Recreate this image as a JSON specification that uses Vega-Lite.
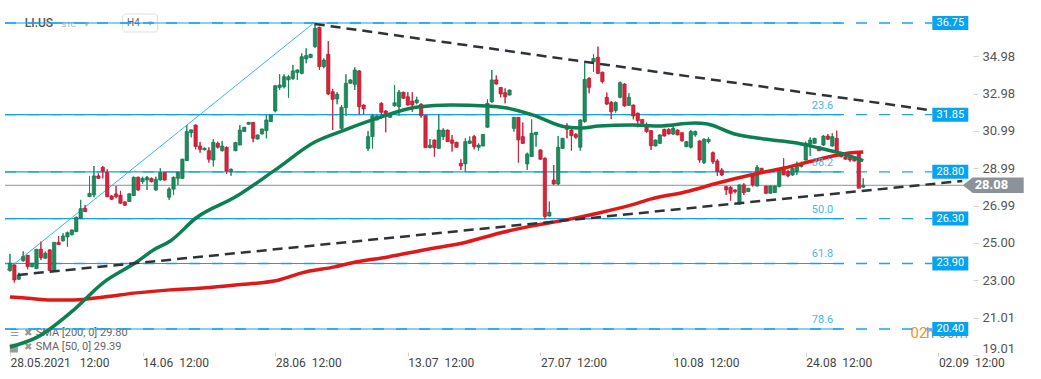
{
  "$schema": "https://vega.github.io/schema/vega-lite/v6.json",
  "width": 973,
  "height": 355,
  "padding": 0,
  "background": "white",
  "config": {"view": {"stroke": null}, "font": "Roboto"},
  "datasets": {
    "candles": [
      {"i":0,"o":23.52,"h":24.41,"l":23.47,"c":23.91},
      {"i":1,"o":23.82,"h":23.85,"l":22.88,"c":23.02},
      {"i":2,"o":23.06,"h":23.41,"l":23.02,"c":23.29},
      {"i":3,"o":24.05,"h":24.55,"l":24.00,"c":24.27},
      {"i":4,"o":24.34,"h":24.36,"l":23.59,"c":23.73},
      {"i":5,"o":23.73,"h":23.93,"l":23.70,"c":23.91},
      {"i":6,"o":23.63,"h":24.68,"l":23.60,"c":24.66},
      {"i":7,"o":24.66,"h":25.07,"l":24.09,"c":24.22},
      {"i":8,"o":24.18,"h":24.54,"l":24.14,"c":24.45},
      {"i":9,"o":24.63,"h":24.66,"l":23.50,"c":23.52},
      {"i":10,"o":23.49,"h":25.05,"l":23.47,"c":25.03},
      {"i":11,"o":25.03,"h":25.37,"l":24.89,"c":24.91},
      {"i":12,"o":25.11,"h":25.52,"l":25.07,"c":25.37},
      {"i":13,"o":25.32,"h":25.60,"l":24.80,"c":25.55},
      {"i":14,"o":25.44,"h":25.72,"l":25.40,"c":25.69},
      {"i":15,"o":25.60,"h":26.40,"l":25.58,"c":26.37},
      {"i":16,"o":26.32,"h":27.30,"l":26.30,"c":26.83},
      {"i":17,"o":26.85,"h":27.03,"l":26.65,"c":26.67},
      {"i":18,"o":27.47,"h":28.58,"l":27.45,"c":27.65},
      {"i":19,"o":27.56,"h":29.11,"l":27.44,"c":28.58},
      {"i":20,"o":28.58,"h":28.72,"l":28.43,"c":28.45},
      {"i":21,"o":29.04,"h":29.11,"l":28.45,"c":28.84},
      {"i":22,"o":28.76,"h":28.93,"l":27.44,"c":27.47},
      {"i":23,"o":27.51,"h":27.55,"l":27.30,"c":27.33},
      {"i":24,"o":27.62,"h":28.04,"l":27.39,"c":27.47},
      {"i":25,"o":27.55,"h":27.78,"l":27.08,"c":27.12},
      {"i":26,"o":27.19,"h":27.22,"l":26.99,"c":27.01},
      {"i":27,"o":27.21,"h":27.65,"l":27.19,"c":27.62},
      {"i":28,"o":27.53,"h":28.54,"l":27.50,"c":28.51},
      {"i":29,"o":28.51,"h":28.54,"l":27.78,"c":27.83},
      {"i":30,"o":28.27,"h":28.54,"l":28.15,"c":28.45},
      {"i":31,"o":28.36,"h":28.58,"l":27.83,"c":28.49},
      {"i":32,"o":28.45,"h":28.49,"l":28.24,"c":28.27},
      {"i":33,"o":27.83,"h":28.54,"l":27.79,"c":28.40},
      {"i":34,"o":28.36,"h":28.99,"l":28.33,"c":28.76},
      {"i":35,"o":28.76,"h":28.80,"l":28.33,"c":28.36},
      {"i":36,"o":27.44,"h":27.97,"l":27.30,"c":27.88},
      {"i":37,"o":27.87,"h":28.54,"l":27.56,"c":28.51},
      {"i":38,"o":28.45,"h":28.81,"l":28.10,"c":28.76},
      {"i":39,"o":28.45,"h":29.50,"l":28.43,"c":29.47},
      {"i":40,"o":29.40,"h":31.30,"l":29.38,"c":30.95},
      {"i":41,"o":30.89,"h":31.06,"l":30.64,"c":31.04},
      {"i":42,"o":31.30,"h":31.32,"l":30.00,"c":30.15},
      {"i":43,"o":30.18,"h":30.39,"l":29.82,"c":30.00},
      {"i":44,"o":29.97,"h":30.10,"l":29.95,"c":30.06},
      {"i":45,"o":29.93,"h":30.11,"l":29.29,"c":29.47},
      {"i":46,"o":29.43,"h":30.54,"l":29.08,"c":30.38},
      {"i":47,"o":30.32,"h":30.41,"l":30.05,"c":30.11},
      {"i":48,"o":29.93,"h":30.45,"l":29.88,"c":30.18},
      {"i":49,"o":30.11,"h":30.15,"l":28.69,"c":28.84},
      {"i":50,"o":28.81,"h":28.98,"l":28.59,"c":28.93},
      {"i":51,"o":29.93,"h":30.40,"l":29.90,"c":30.36},
      {"i":52,"o":30.23,"h":31.30,"l":30.22,"c":31.03},
      {"i":53,"o":30.95,"h":31.20,"l":30.93,"c":31.18},
      {"i":54,"o":31.34,"h":31.46,"l":31.32,"c":31.44},
      {"i":55,"o":31.44,"h":31.46,"l":30.38,"c":30.59},
      {"i":56,"o":30.55,"h":30.79,"l":30.53,"c":30.77},
      {"i":57,"o":30.82,"h":31.10,"l":30.80,"c":31.09},
      {"i":58,"o":31.00,"h":31.84,"l":30.59,"c":31.57},
      {"i":59,"o":31.48,"h":31.86,"l":31.46,"c":31.84},
      {"i":60,"o":32.05,"h":33.42,"l":31.98,"c":33.40},
      {"i":61,"o":33.30,"h":34.01,"l":33.17,"c":33.44},
      {"i":62,"o":33.35,"h":34.01,"l":33.26,"c":33.88},
      {"i":63,"o":33.71,"h":33.97,"l":32.76,"c":33.88},
      {"i":64,"o":33.79,"h":34.51,"l":33.71,"c":34.19},
      {"i":65,"o":34.11,"h":34.27,"l":33.71,"c":34.24},
      {"i":66,"o":34.06,"h":35.13,"l":34.01,"c":34.95},
      {"i":67,"o":34.83,"h":35.40,"l":34.60,"c":35.01},
      {"i":68,"o":34.90,"h":35.10,"l":34.88,"c":35.08},
      {"i":69,"o":35.49,"h":36.73,"l":35.43,"c":36.46},
      {"i":70,"o":36.52,"h":36.55,"l":34.24,"c":34.42},
      {"i":71,"o":34.42,"h":34.86,"l":34.33,"c":34.77},
      {"i":72,"o":35.08,"h":35.79,"l":32.90,"c":32.96},
      {"i":73,"o":33.08,"h":33.23,"l":31.03,"c":32.67},
      {"i":74,"o":32.69,"h":33.05,"l":32.41,"c":32.94},
      {"i":75,"o":31.12,"h":32.37,"l":31.03,"c":32.25},
      {"i":76,"o":32.23,"h":34.01,"l":31.80,"c":33.53},
      {"i":77,"o":33.53,"h":33.75,"l":33.50,"c":33.71},
      {"i":78,"o":33.47,"h":34.38,"l":33.17,"c":34.24},
      {"i":79,"o":34.19,"h":34.24,"l":31.84,"c":32.28},
      {"i":80,"o":32.37,"h":32.40,"l":31.84,"c":32.16},
      {"i":81,"o":30.05,"h":30.98,"l":29.91,"c":30.68},
      {"i":82,"o":30.68,"h":31.87,"l":30.05,"c":31.80},
      {"i":83,"o":31.57,"h":31.82,"l":31.55,"c":31.78},
      {"i":84,"o":32.46,"h":32.51,"l":31.62,"c":31.98},
      {"i":85,"o":32.05,"h":32.10,"l":30.91,"c":31.75},
      {"i":86,"o":31.71,"h":31.94,"l":31.69,"c":31.92},
      {"i":87,"o":32.33,"h":33.44,"l":32.28,"c":32.49},
      {"i":88,"o":32.28,"h":33.17,"l":31.80,"c":33.05},
      {"i":89,"o":33.05,"h":33.08,"l":32.70,"c":32.73},
      {"i":90,"o":32.81,"h":33.05,"l":32.33,"c":32.37},
      {"i":91,"o":32.58,"h":33.05,"l":32.01,"c":32.37},
      {"i":92,"o":32.49,"h":32.81,"l":32.41,"c":32.64},
      {"i":93,"o":32.41,"h":32.46,"l":31.69,"c":31.80},
      {"i":94,"o":31.80,"h":31.84,"l":30.08,"c":30.09},
      {"i":95,"o":30.09,"h":30.55,"l":30.05,"c":30.23},
      {"i":96,"o":30.50,"h":30.52,"l":29.61,"c":30.09},
      {"i":97,"o":30.05,"h":31.89,"l":30.03,"c":31.03},
      {"i":98,"o":30.68,"h":31.12,"l":30.50,"c":31.03},
      {"i":99,"o":31.03,"h":31.05,"l":30.41,"c":30.41},
      {"i":100,"o":30.50,"h":30.77,"l":29.88,"c":30.32},
      {"i":101,"o":30.38,"h":30.40,"l":30.10,"c":30.11},
      {"i":102,"o":29.25,"h":29.47,"l":28.90,"c":29.11},
      {"i":103,"o":29.22,"h":30.59,"l":28.81,"c":30.41},
      {"i":104,"o":30.32,"h":30.68,"l":30.29,"c":30.45},
      {"i":105,"o":30.68,"h":30.77,"l":30.00,"c":30.14},
      {"i":106,"o":30.11,"h":30.32,"l":29.93,"c":30.23},
      {"i":107,"o":30.18,"h":30.82,"l":30.16,"c":30.80},
      {"i":108,"o":31.18,"h":32.67,"l":31.16,"c":32.46},
      {"i":109,"o":32.55,"h":34.24,"l":32.49,"c":33.71},
      {"i":110,"o":33.71,"h":33.95,"l":33.46,"c":33.49},
      {"i":111,"o":33.31,"h":33.33,"l":32.78,"c":32.96},
      {"i":112,"o":33.03,"h":33.26,"l":32.46,"c":32.81},
      {"i":113,"o":32.90,"h":33.19,"l":32.88,"c":33.17},
      {"i":114,"o":31.12,"h":31.73,"l":30.95,"c":31.71},
      {"i":115,"o":31.71,"h":31.73,"l":29.29,"c":30.50},
      {"i":116,"o":30.68,"h":31.43,"l":30.29,"c":30.32},
      {"i":117,"o":29.22,"h":29.82,"l":28.90,"c":29.75},
      {"i":118,"o":29.61,"h":31.60,"l":29.59,"c":30.86},
      {"i":119,"o":30.78,"h":30.93,"l":30.14,"c":30.91},
      {"i":120,"o":29.97,"h":29.99,"l":29.43,"c":29.47},
      {"i":121,"o":29.52,"h":29.57,"l":26.26,"c":26.41},
      {"i":122,"o":26.44,"h":27.21,"l":26.41,"c":26.64},
      {"i":123,"o":28.36,"h":29.16,"l":28.10,"c":28.15},
      {"i":124,"o":28.15,"h":30.71,"l":28.08,"c":30.11},
      {"i":125,"o":30.05,"h":30.61,"l":30.03,"c":30.59},
      {"i":126,"o":31.25,"h":31.39,"l":30.59,"c":31.07},
      {"i":127,"o":31.03,"h":31.18,"l":29.93,"c":30.73},
      {"i":128,"o":30.80,"h":30.86,"l":30.57,"c":30.64},
      {"i":129,"o":30.11,"h":31.60,"l":29.93,"c":31.57},
      {"i":130,"o":31.48,"h":34.60,"l":31.43,"c":33.74},
      {"i":131,"o":33.79,"h":33.85,"l":33.00,"c":33.31},
      {"i":132,"o":34.68,"h":35.09,"l":34.15,"c":34.86},
      {"i":133,"o":34.92,"h":35.49,"l":34.02,"c":34.06},
      {"i":134,"o":34.12,"h":34.15,"l":33.53,"c":33.62},
      {"i":135,"o":32.78,"h":33.03,"l":32.37,"c":32.42},
      {"i":136,"o":32.51,"h":32.58,"l":31.62,"c":32.01},
      {"i":137,"o":32.07,"h":32.55,"l":31.96,"c":32.51},
      {"i":138,"o":32.78,"h":33.62,"l":32.73,"c":33.56},
      {"i":139,"o":33.49,"h":33.53,"l":32.28,"c":32.32},
      {"i":140,"o":32.35,"h":33.00,"l":32.33,"c":32.78},
      {"i":141,"o":32.37,"h":32.39,"l":31.60,"c":31.78},
      {"i":142,"o":31.93,"h":31.96,"l":31.18,"c":31.53},
      {"i":143,"o":31.60,"h":31.62,"l":31.37,"c":31.39},
      {"i":144,"o":31.18,"h":31.43,"l":30.89,"c":30.95},
      {"i":145,"o":31.00,"h":31.03,"l":29.97,"c":30.20},
      {"i":146,"o":30.18,"h":30.52,"l":30.16,"c":30.50},
      {"i":147,"o":30.32,"h":30.80,"l":30.30,"c":30.77},
      {"i":148,"o":31.07,"h":31.10,"l":30.69,"c":30.71},
      {"i":149,"o":31.07,"h":31.12,"l":30.80,"c":30.82},
      {"i":150,"o":30.82,"h":31.25,"l":30.77,"c":31.12},
      {"i":151,"o":31.03,"h":31.07,"l":30.75,"c":30.77},
      {"i":152,"o":30.89,"h":30.90,"l":30.41,"c":30.46},
      {"i":153,"o":30.14,"h":30.43,"l":30.12,"c":30.41},
      {"i":154,"o":30.11,"h":31.03,"l":30.05,"c":30.95},
      {"i":155,"o":30.77,"h":31.00,"l":30.68,"c":30.95},
      {"i":156,"o":30.45,"h":30.47,"l":29.29,"c":29.43},
      {"i":157,"o":29.29,"h":30.59,"l":29.22,"c":30.54},
      {"i":158,"o":30.41,"h":30.64,"l":30.32,"c":30.54},
      {"i":159,"o":29.82,"h":29.88,"l":29.22,"c":29.34},
      {"i":160,"o":29.38,"h":29.47,"l":28.58,"c":28.81},
      {"i":161,"o":28.90,"h":28.99,"l":28.58,"c":28.63},
      {"i":162,"o":28.01,"h":28.04,"l":27.56,"c":27.83},
      {"i":163,"o":27.97,"h":28.04,"l":27.26,"c":27.65},
      {"i":164,"o":27.83,"h":27.87,"l":27.65,"c":27.74},
      {"i":165,"o":27.08,"h":28.12,"l":27.03,"c":28.10},
      {"i":166,"o":28.10,"h":28.19,"l":27.56,"c":27.69},
      {"i":167,"o":27.74,"h":27.94,"l":27.72,"c":27.92},
      {"i":168,"o":28.58,"h":28.63,"l":28.01,"c":28.10},
      {"i":169,"o":28.04,"h":29.16,"l":28.01,"c":29.04},
      {"i":170,"o":28.99,"h":29.01,"l":28.79,"c":28.81},
      {"i":171,"o":28.04,"h":28.06,"l":27.63,"c":27.65},
      {"i":172,"o":27.65,"h":28.06,"l":27.63,"c":28.04},
      {"i":173,"o":27.69,"h":28.06,"l":27.67,"c":28.04},
      {"i":174,"o":28.01,"h":28.93,"l":27.97,"c":28.90},
      {"i":175,"o":28.99,"h":29.52,"l":28.63,"c":28.63},
      {"i":176,"o":28.81,"h":28.90,"l":28.51,"c":28.58},
      {"i":177,"o":28.63,"h":29.04,"l":28.58,"c":28.99},
      {"i":178,"o":28.81,"h":29.34,"l":28.63,"c":29.16},
      {"i":179,"o":29.08,"h":29.34,"l":29.04,"c":29.25},
      {"i":180,"o":29.43,"h":30.41,"l":29.41,"c":30.32},
      {"i":181,"o":30.29,"h":30.64,"l":29.65,"c":30.50},
      {"i":182,"o":30.32,"h":30.61,"l":30.30,"c":30.59},
      {"i":183,"o":30.14,"h":30.16,"l":29.91,"c":29.93},
      {"i":184,"o":30.23,"h":30.77,"l":30.18,"c":30.71},
      {"i":185,"o":30.71,"h":30.82,"l":30.50,"c":30.54},
      {"i":186,"o":30.18,"h":30.86,"l":30.14,"c":30.68},
      {"i":187,"o":30.59,"h":31.00,"l":29.82,"c":29.88},
      {"i":188,"o":29.79,"h":29.88,"l":29.57,"c":29.61},
      {"i":189,"o":29.61,"h":29.63,"l":29.45,"c":29.47},
      {"i":190,"o":29.57,"h":29.65,"l":29.34,"c":29.43},
      {"i":191,"o":29.52,"h":29.55,"l":29.36,"c":29.38},
      {"i":192,"o":29.75,"h":29.88,"l":27.92,"c":27.92},
      {"i":193,"o":27.98,"h":28.45,"l":27.95,"c":28.08}
    ],
    "sma50": [
      {"i":0,"p":19.44},{"i":6.27,"p":19.98},{"i":13.88,"p":21.31},{"i":21.27,"p":22.91},
      {"i":28.65,"p":23.98},{"i":32.46,"p":24.62},{"i":36.27,"p":25.10},{"i":42.09,"p":26.33},
      {"i":51.04,"p":27.46},{"i":60.0,"p":28.90},{"i":68.95,"p":30.39},{"i":75.67,"p":31.03},
      {"i":83.28,"p":31.68},{"i":92.23,"p":32.26},{"i":99.62,"p":32.37},{"i":107.9,"p":32.32},
      {"i":112.4,"p":32.21},{"i":118.2,"p":31.84},{"i":125.8,"p":31.19},{"i":129.4,"p":31.14},
      {"i":133.2,"p":31.25},{"i":140.6,"p":31.30},{"i":146.6,"p":31.25},{"i":154.9,"p":31.41},
      {"i":157.8,"p":31.35},{"i":163.9,"p":30.82},{"i":170.6,"p":30.55},{"i":178.0,"p":30.34},
      {"i":183.1,"p":30.07},{"i":187.6,"p":29.81},{"i":193.0,"p":29.40}
    ],
    "sma200": [
      {"i":0,"p":22.11},{"i":3.36,"p":22.06},{"i":8.51,"p":21.95},{"i":14.55,"p":21.95},
      {"i":21.27,"p":22.11},{"i":28.65,"p":22.33},{"i":36.27,"p":22.49},{"i":43.65,"p":22.59},
      {"i":51.04,"p":22.75},{"i":60.89,"p":23.02},{"i":66.04,"p":23.40},{"i":73.43,"p":23.72},
      {"i":77.23,"p":23.93},{"i":85.52,"p":24.25},{"i":93.58,"p":24.62},{"i":103.4,"p":25.05},
      {"i":110.8,"p":25.53},{"i":118.2,"p":25.91},{"i":125.8,"p":26.23},{"i":133.2,"p":26.60},
      {"i":140.6,"p":27.03},{"i":145.1,"p":27.35},{"i":152.7,"p":27.72},{"i":160.1,"p":28.20},
      {"i":167.5,"p":28.63},{"i":175.1,"p":29.00},{"i":182.4,"p":29.43},{"i":189.8,"p":29.81},
      {"i":193.0,"p":29.86}
    ],
    "trend": [
      {"g":"down","i":68.95,"p":36.70},{"g":"down","i":208.6,"p":32.08},
      {"g":"up","i":1.79,"p":23.29},{"g":"up","i":215.4,"p":28.31}
    ],
    "fibline": [
      {"i":-0.67,"p":23.56},{"i":68.7,"p":36.75}
    ],
    "levels": [
      {"p":36.75,"lab":"36.75","fib":""},
      {"p":31.85,"lab":"31.85","fib":"23.6"},
      {"p":28.80,"lab":"28.80","fib":"38.2"},
      {"p":26.30,"lab":"26.30","fib":"50.0"},
      {"p":23.90,"lab":"23.90","fib":"61.8"},
      {"p":20.40,"lab":"20.40","fib":"78.6"}
    ]
  },
  "layer": [
    {
      "data": {"name": "candles"},
      "mark": {"type": "rule", "strokeWidth": 1},
      "encoding": {
        "x": {
          "field": "i", "type": "quantitative",
          "scale": {"domain": [-1.12, 216.7], "nice": false, "zero": false},
          "axis": {
            "title": null, "values": [0, 30, 60, 90, 120, 150, 180, 210],
            "labelExpr": "datum.value == 0 ? '28.05.2021\u00a0\u00a0\u00a012:00' : datum.value == 30 ? '14.06\u00a0\u00a012:00' : datum.value == 60 ? '28.06\u00a0\u00a012:00' : datum.value == 90 ? '13.07\u00a0\u00a012:00' : datum.value == 120 ? '27.07\u00a0\u00a012:00' : datum.value == 150 ? '10.08\u00a0\u00a012:00' : datum.value == 180 ? '24.08\u00a0\u00a012:00' : '02.09\u00a0\u00a012:00'",
            "grid": false, "domain": false, "tickSize": 4, "tickColor": "#d4d4d4",
            "labelAlign": "left", "labelFlush": false, "labelOverlap": false,
            "labelFontSize": 12, "labelColor": "#444", "labelPadding": 1, "offset": -3
          }
        },
        "y": {
          "field": "l", "type": "quantitative",
          "scale": {"domain": [19.01, 37.98], "nice": false, "zero": false},
          "axis": {
            "title": null, "orient": "right",
            "values": [19.01, 21.01, 23.0, 25.0, 26.99, 28.99, 30.99, 32.98, 34.98],
            "format": ".2f", "grid": false, "domain": false, "tickSize": 5, "tickColor": "#d4d4d4",
            "labelFontSize": 13, "labelColor": "#555", "labelPadding": 4, "labelFlush": 6, "labelOverlap": false
          }
        },
        "y2": {"field": "h"},
        "color": {"condition": {"test": "datum.c >= datum.o", "value": "#168a5a"}, "value": "#d3203a"}
      }
    },
    {
      "data": {"values": [{}]},
      "mark": {"type": "rect", "fill": "white", "stroke": "#dedede", "strokeWidth": 1, "cornerRadius": 3},
      "encoding": {
        "x": {"datum": 25.5, "type": "quantitative"},
        "x2": {"datum": 33.4},
        "y": {"datum": 37.23, "type": "quantitative"},
        "y2": {"datum": 36.27}
      }
    },
    {
      "data": {"values": [{"t": "LI.US"}]},
      "mark": {"type": "text", "align": "left", "fontSize": 12, "fontWeight": 500, "color": "#555"},
      "encoding": {
        "x": {"datum": 3.36, "type": "quantitative"},
        "y": {"datum": 36.75, "type": "quantitative"},
        "text": {"field": "t"}
      }
    },
    {
      "data": {"values": [{"t": "STC"}]},
      "mark": {"type": "text", "align": "left", "fontSize": 8, "color": "#aaa"},
      "encoding": {
        "x": {"datum": 11.64, "type": "quantitative"},
        "y": {"datum": 36.67, "type": "quantitative"},
        "text": {"field": "t"}
      }
    },
    {
      "data": {"values": [{"t": "▾"}]},
      "mark": {"type": "text", "align": "left", "fontSize": 10, "color": "#bbb"},
      "encoding": {
        "x": {"datum": 16.8, "type": "quantitative"},
        "y": {"datum": 36.72, "type": "quantitative"},
        "text": {"field": "t"}
      }
    },
    {
      "data": {"values": [{"t": "H4"}]},
      "mark": {"type": "text", "align": "left", "fontSize": 10, "color": "#666"},
      "encoding": {
        "x": {"datum": 26.5, "type": "quantitative"},
        "y": {"datum": 36.75, "type": "quantitative"},
        "text": {"field": "t"}
      }
    },
    {
      "data": {"values": [{"t": "▾"}]},
      "mark": {"type": "text", "align": "left", "fontSize": 9, "color": "#bbb"},
      "encoding": {
        "x": {"datum": 31.2, "type": "quantitative"},
        "y": {"datum": 36.75, "type": "quantitative"},
        "text": {"field": "t"}
      }
    },
    {
      "data": {"values": [{"a": "☰", "b": "✖", "t": "SMA [200,  0]  29.80", "p": 20.19}, {"a": "▆", "b": "✖", "t": "SMA [50,  0]  29.39", "p": 19.44}]},
      "layer": [
        {
          "mark": {"type": "text", "align": "left", "fontSize": 10, "color": "#999"},
          "encoding": {
            "x": {"datum": 0.1, "type": "quantitative"},
            "y": {"field": "p", "type": "quantitative"},
            "text": {"field": "a"}
          }
        },
        {
          "mark": {"type": "text", "align": "left", "fontSize": 10, "color": "#999"},
          "encoding": {
            "x": {"datum": 3.13, "type": "quantitative"},
            "y": {"field": "p", "type": "quantitative"},
            "text": {"field": "b"}
          }
        },
        {
          "mark": {"type": "text", "align": "left", "fontSize": 11, "color": "#666"},
          "encoding": {
            "x": {"datum": 5.82, "type": "quantitative"},
            "y": {"field": "p", "type": "quantitative"},
            "text": {"field": "t"}
          }
        }
      ]
    },
    {
      "data": {"name": "levels"},
      "mark": {"type": "rule", "color": "#1aa5ec", "strokeWidth": 1.3, "strokeDash": [11, 12]},
      "encoding": {
        "x": {"datum": -1.12, "type": "quantitative"},
        "x2": {"datum": 208.6},
        "y": {"field": "p", "type": "quantitative"}
      }
    },
    {
      "data": {"name": "levels"},
      "mark": {"type": "rule", "color": "#14a1e8", "strokeWidth": 1.2},
      "encoding": {
        "x": {"datum": -1.12, "type": "quantitative"},
        "x2": {"datum": 188},
        "y": {"field": "p", "type": "quantitative"}
      }
    },
    {
      "data": {"values": [{}]},
      "mark": {"type": "rule", "color": "#8a9196", "strokeWidth": 1},
      "encoding": {
        "x": {"datum": -1.12, "type": "quantitative"},
        "x2": {"datum": 215.5},
        "y": {"datum": 28.08, "type": "quantitative"}
      }
    },
    {
      "data": {"name": "fibline"},
      "mark": {"type": "line", "color": "#36b4f0", "strokeWidth": 1},
      "encoding": {
        "x": {"field": "i", "type": "quantitative"},
        "y": {"field": "p", "type": "quantitative"}
      }
    },
    {
      "data": {"name": "candles"},
      "mark": {"type": "rule", "strokeWidth": 1},
      "encoding": {
        "x": {"field": "i", "type": "quantitative"},
        "y": {"field": "l", "type": "quantitative"},
        "y2": {"field": "h"},
        "color": {"condition": {"test": "datum.c >= datum.o", "value": "#168a5a"}, "value": "#d3203a"}
      }
    },
    {
      "data": {"name": "candles"},
      "mark": {"type": "bar", "width": 3.4, "strokeWidth": 0.6},
      "encoding": {
        "x": {"field": "i", "type": "quantitative"},
        "y": {"field": "o", "type": "quantitative"},
        "y2": {"field": "c"},
        "color": {"condition": {"test": "datum.c >= datum.o", "value": "#1c8c5e"}, "value": "#d9233b"},
        "stroke": {"condition": {"test": "datum.c >= datum.o", "value": "#0f6b45"}, "value": "#a8182b"}
      }
    },
    {
      "data": {"name": "sma200"},
      "mark": {"type": "line", "color": "#e01818", "strokeWidth": 3.5, "interpolate": "monotone"},
      "encoding": {
        "x": {"field": "i", "type": "quantitative"},
        "y": {"field": "p", "type": "quantitative"}
      }
    },
    {
      "data": {"name": "sma50"},
      "mark": {"type": "line", "color": "#0c8050", "strokeWidth": 3.5, "interpolate": "monotone"},
      "encoding": {
        "x": {"field": "i", "type": "quantitative"},
        "y": {"field": "p", "type": "quantitative"}
      }
    },
    {
      "data": {"name": "trend"},
      "mark": {"type": "line", "color": "#2d3338", "strokeWidth": 2.5, "strokeDash": [10, 6]},
      "encoding": {
        "x": {"field": "i", "type": "quantitative"},
        "y": {"field": "p", "type": "quantitative"},
        "detail": {"field": "g"}
      }
    },
    {
      "data": {"name": "levels"},
      "mark": {"type": "text", "color": "#45b5ee", "fontSize": 11, "dy": -9},
      "encoding": {
        "x": {"datum": 183.8, "type": "quantitative"},
        "y": {"field": "p", "type": "quantitative"},
        "text": {"field": "fib"}
      }
    },
    {
      "data": {"values": [{"t": "02"}]},
      "mark": {"type": "text", "align": "left", "fontSize": 15, "color": "#f7931e"},
      "encoding": {
        "x": {"datum": 203.7, "type": "quantitative"},
        "y": {"datum": 20.16, "type": "quantitative"},
        "text": {"field": "t"}
      }
    },
    {
      "data": {"values": [{"t": "h 00m"}]},
      "mark": {"type": "text", "align": "left", "fontSize": 15, "color": "#9a9a9a"},
      "encoding": {
        "x": {"datum": 207.2, "type": "quantitative"},
        "y": {"datum": 20.16, "type": "quantitative"},
        "text": {"field": "t"}
      }
    },
    {
      "data": {"name": "levels"},
      "mark": {"type": "tick", "orient": "vertical", "size": 14, "thickness": 36, "color": "#08a3ee", "opacity": 1},
      "encoding": {
        "x": {"datum": 212.7, "type": "quantitative"},
        "y": {"field": "p", "type": "quantitative"}
      }
    },
    {
      "data": {"name": "levels"},
      "mark": {"type": "text", "color": "white", "fontSize": 11},
      "encoding": {
        "x": {"datum": 212.7, "type": "quantitative"},
        "y": {"field": "p", "type": "quantitative"},
        "text": {"field": "lab"}
      }
    },
    {
      "data": {"values": [{"t": "28.08"}]},
      "mark": {"type": "point", "shape": "M-1,0L-0.67,-0.257H1V0.257H-0.67Z", "size": 3721, "filled": true, "color": "#8c9398", "opacity": 1, "strokeWidth": 0},
      "encoding": {
        "x": {"datum": 222.4, "type": "quantitative"},
        "y": {"datum": 28.08, "type": "quantitative"}
      }
    },
    {
      "data": {"values": [{"t": "28.08"}]},
      "mark": {"type": "text", "color": "white", "fontSize": 13, "fontWeight": "bold"},
      "encoding": {
        "x": {"datum": 222.0, "type": "quantitative"},
        "y": {"datum": 28.08, "type": "quantitative"},
        "text": {"field": "t"}
      }
    }
  ]
}
